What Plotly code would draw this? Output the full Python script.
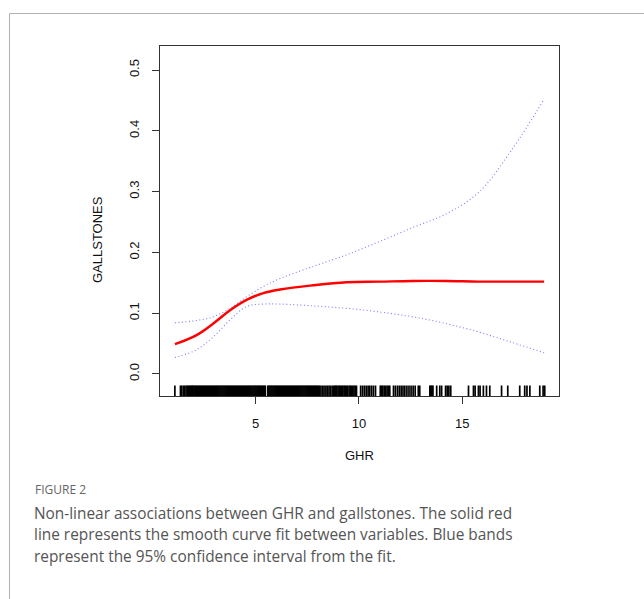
import plotly.graph_objects as go

# ---- data ----
ghr_x = [1.09, 2.14, 2.95, 3.76, 4.56, 5.37, 6.18, 7.79, 9.4, 11.0, 12.6, 14.2, 15.8, 17.4, 18.96]
fit_y = [0.049, 0.064, 0.083, 0.105, 0.122, 0.133, 0.139, 0.146, 0.151, 0.152, 0.153, 0.153, 0.152, 0.152, 0.152]
upper_y = [0.084, 0.088, 0.094, 0.108, 0.127, 0.144, 0.157, 0.177, 0.196, 0.218, 0.241, 0.263, 0.299, 0.369, 0.452]
lower_y = [0.027, 0.040, 0.061, 0.089, 0.111, 0.115, 0.115, 0.112, 0.108, 0.102, 0.094, 0.083, 0.069, 0.052, 0.035]

rug_x = [
    1.09, 1.36, 1.42, 1.50, 1.56, 1.63, 1.69, 1.74, 1.79, 1.84, 1.89, 1.93,
    1.97, 2.02, 2.07, 2.12, 2.17, 2.22, 2.27, 2.32, 2.37, 2.42, 2.47, 2.52, 2.57, 2.62, 2.67, 2.72,
    2.77, 2.82, 2.87, 2.92, 2.97, 3.02, 3.07, 3.12, 3.17, 3.22, 3.27, 3.32, 3.37, 3.42, 3.47, 3.52,
    3.57, 3.62, 3.67, 3.72, 3.77, 3.82, 3.87, 3.92, 3.97, 4.02, 4.07, 4.12, 4.17, 4.22, 4.27, 4.32,
    4.37, 4.42, 4.47, 4.52, 4.57, 4.62, 4.67, 4.72, 4.77, 4.82, 4.87, 4.92, 4.97, 5.02, 5.07, 5.12,
    5.17, 5.22, 5.27, 5.32, 5.37, 5.42, 5.47, 5.59, 5.64, 5.69, 5.74, 5.79, 5.84, 5.89, 5.94, 5.99,
    6.04, 6.09, 6.14, 6.19, 6.24, 6.29, 6.34, 6.39, 6.44, 6.49, 6.54, 6.59, 6.64, 6.69, 6.74, 6.79,
    6.84, 6.89, 6.94, 6.99, 7.04, 7.09, 7.14, 7.19, 7.24, 7.29, 7.34, 7.39, 7.44, 7.49, 7.54, 7.59,
    7.64, 7.69, 7.74, 7.79, 7.84, 7.89, 7.94, 7.99, 8.04, 8.09,
    8.16, 8.24, 8.31, 8.40, 8.47, 8.55, 8.62, 8.70,
    8.78, 8.83, 8.88, 8.93, 8.99, 9.05, 9.10, 9.16, 9.22, 9.28, 9.33, 9.39, 9.45, 9.52, 9.58, 9.63,
    9.70, 9.76, 9.82, 9.88,
    10.08, 10.17, 10.26, 10.35, 10.44, 10.52, 10.61, 10.70, 10.80,
    11.03, 11.09, 11.15, 11.22, 11.29, 11.36, 11.43, 11.49,
    11.67, 11.76, 11.86, 11.95, 12.04, 12.13, 12.22, 12.32, 12.42, 12.52, 12.62, 12.72,
    12.87, 12.94,
    13.43, 13.48, 13.53, 13.58, 13.76, 13.91, 14.00, 14.19, 14.27, 14.35, 14.44,
    15.30, 15.54, 15.62, 15.78, 15.86, 16.02, 16.17, 16.33,
    16.90, 17.20, 17.78, 18.02, 18.13, 18.27, 18.75, 18.91, 18.99,
]

x_ticks = [5, 10, 15]
y_ticks = [0.0, 0.1, 0.2, 0.3, 0.4, 0.5]
x_title = "GHR"
y_title = "GALLSTONES"
fig_label = "FIGURE 2"
caption_lines = [
    "Non-linear associations between GHR and gallstones. The solid red",
    "line represents the smooth curve fit between variables. Blue bands",
    "represent the 95% confidence interval from the fit.",
]

W, H = 644, 599
axis_font = dict(family="Liberation Sans, Arial, sans-serif", size=13, color="#111")
ci_line = dict(color="rgba(110,110,255,0.9)", width=1.1, dash="1px,2.5px", shape="spline")
RUG_FRAC = 0.03  # rug tick length as a fraction of the plot height

fig = go.Figure()
fig.add_trace(go.Scatter(x=ghr_x, y=upper_y, mode="lines", line=ci_line, hoverinfo="skip"))
fig.add_trace(go.Scatter(x=ghr_x, y=lower_y, mode="lines", line=ci_line, hoverinfo="skip"))
fig.add_trace(go.Scatter(x=ghr_x, y=fit_y, mode="lines",
                         line=dict(color="#ff0000", width=2.4, shape="spline", smoothing=1.1),
                         hoverinfo="skip"))

# rug drawn on an overlay axis spanning 0..1 of the plot height
rug_xs, rug_ys = [], []
for v in rug_x:
    rug_xs += [v, v, None]
    rug_ys += [0, RUG_FRAC, None]
fig.add_trace(go.Scatter(x=rug_xs, y=rug_ys, mode="lines", yaxis="y2",
                         line=dict(color="black", width=1.7), hoverinfo="skip"))

shapes = [
    dict(type="line", xref="paper", yref="paper", x0=9.5 / W, x1=1.0,
         y0=1 - 13.5 / H, y1=1 - 13.5 / H, line=dict(color="#b0b0b0", width=1)),
    dict(type="line", xref="paper", yref="paper", x0=9.5 / W, x1=9.5 / W,
         y0=0, y1=1 - 13.5 / H, line=dict(color="#b0b0b0", width=1)),
]

annotations = [
    dict(text=x_title, x=359.5 / W, y=1 - 455 / H, xref="paper", yref="paper",
         showarrow=False, font=axis_font, xanchor="center", yanchor="middle"),
    dict(text=y_title, x=98 / W, y=1 - 240 / H, xref="paper", yref="paper",
         showarrow=False, font=axis_font, textangle=-90, xanchor="center", yanchor="middle"),
    dict(text=fig_label, x=33 / W, y=1 - 490 / H, xref="paper", yref="paper",
         showarrow=False, font=dict(family="Open Sans, sans-serif", size=12, color="#666"),
         xanchor="left", yanchor="middle"),
]
for i, line in enumerate(caption_lines):
    annotations.append(dict(text=line, x=32 / W, y=1 - (513 + i * 21.5) / H, xref="paper", yref="paper",
                            showarrow=False, font=dict(family="Open Sans, sans-serif", size=15.4, color="#555"),
                            xanchor="left", yanchor="middle"))

ydom = [1 - 396 / H, 1 - 46 / H]
fig.update_layout(
    width=W, height=H,
    margin=dict(l=0, r=0, t=0, b=0),
    paper_bgcolor="white", plot_bgcolor="white",
    showlegend=False,
    shapes=shapes,
    annotations=annotations,
    xaxis=dict(domain=[160 / W, 559 / W], range=[0.37, 19.68], tickvals=x_ticks,
               ticktext=[str(t) for t in x_ticks],
               showgrid=False, zeroline=False, showline=True, mirror=True,
               linecolor="#333", linewidth=1, ticks="outside", ticklen=7, tickcolor="#333",
               tickfont=axis_font, ticklabelstandoff=8),
    yaxis=dict(domain=ydom, range=[-0.0362, 0.5395], tickvals=y_ticks,
               ticktext=[f"{t:.1f}" for t in y_ticks],
               showgrid=False, zeroline=False, showline=True, mirror=True,
               linecolor="#333", linewidth=1, ticks="outside", ticklen=7, tickcolor="#333",
               tickfont=axis_font, tickangle=-90, ticklabelstandoff=8),
    yaxis2=dict(overlaying="y", range=[0, 1], visible=False, showgrid=False, zeroline=False),
)

fig.write_html("out.html", config={"displayModeBar": False},
               post_script="document.body.style.margin='0';document.body.style.overflow='hidden';")
